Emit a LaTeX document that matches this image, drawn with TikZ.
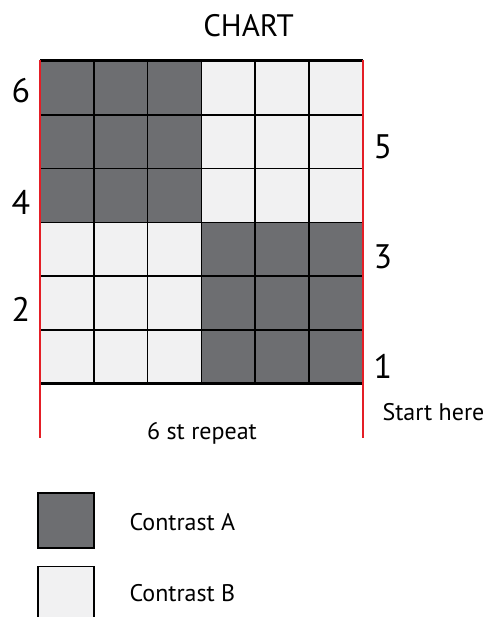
\documentclass[tikz,border=0pt]{standalone}
\usepackage{fontspec}
\setmainfont{PT Sans}
\definecolor{ChartDark}{RGB}{109,110,113}
\definecolor{ChartLight}{RGB}{241,241,242}
\definecolor{ChartRed}{RGB}{228,30,38}

\begin{document}
\begin{tikzpicture}[x=1pt,y=-1pt]
  \useasboundingbox (0,0) rectangle (487,617);
  \clip (0,0) rectangle (487,617);
  \node[font=\fontsize{31}{36}\selectfont] (title) at (248.5,26) {CHART};
  % colour blocks
  \foreach \bx/\by/\col in {0/0/ChartDark, 3/0/ChartLight, 0/3/ChartLight, 3/3/ChartDark}{
    \fill[\col] (40+\bx*53.8,61+\by*53.8) rectangle ++(161.4,161.4);
  }
  % grid lines
  \foreach \i in {1,...,5}{
    \draw[line width=1.6pt] (40+\i*53.8,61) -- (40+\i*53.8,383.8);
    \draw[line width=1.6pt] (40,61+\i*53.8) -- (362.8,61+\i*53.8);
  }
  \draw[line width=3pt] (40,61) -- (362.8,61);
  \draw[line width=3pt] (40,383.8) -- (362.8,383.8);
  \draw[line width=1.6pt] (201.4,61) -- (201.4,383.8);
  % repeat lines
  \foreach \x in {40,362.8}{
    \draw[ChartRed,line width=2.4pt] (\x,60) -- (\x,438);
  }
  % row numbers
  \foreach \n/\x/\y in {6/21/91, 4/21/202, 2/21/309, 5/383/147, 3/383/257, 1/383/366}{
    \node[font=\fontsize{34}{40}\selectfont] (row\n) at (\x,\y) {\n};
  }
  \node[font=\fontsize{24}{28}\selectfont,anchor=west] (start) at (379,412) {Start here};
  \node[font=\fontsize{24}{28}\selectfont] (repeat) at (202,433) {6 st repeat};

  % key
  \node[draw,fill=ChartDark,line width=1.3pt,minimum width=56pt,minimum height=55pt] (keyA) at (66,520.5) {};
  \node[draw,fill=ChartLight,line width=1.3pt,minimum width=56pt,minimum height=60pt,anchor=north] (keyB) at (66,566) {};
  \node[font=\fontsize{24}{28}\selectfont,anchor=west] (txtA) at (126,522) {Contrast A};
  \node[font=\fontsize{24}{28}\selectfont,anchor=west] (txtB) at (126,593) {Contrast B};
\end{tikzpicture}
\end{document}
